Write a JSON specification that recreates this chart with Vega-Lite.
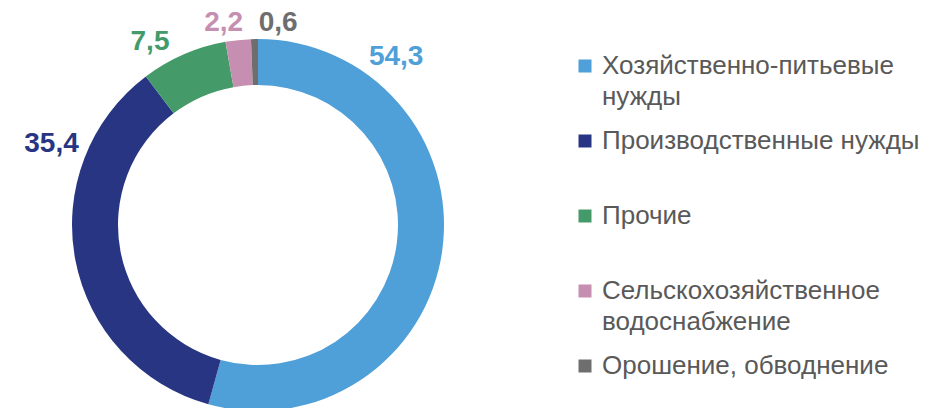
{
  "$schema": "https://vega.github.io/schema/vega-lite/v6.json",
  "width": 516,
  "height": 366,
  "autosize": {"type": "none"},
  "padding": {"left": 0, "top": 42, "right": 412, "bottom": 0},
  "background": "white",
  "config": {
    "view": {"stroke": null},
    "font": "Liberation Sans",
    "style": {"guide-label": {"lineHeight": 31}}
  },
  "data": {
    "values": [
      {"cat": "Хозяйственно-питьевые нужды", "value": 54.3, "label": "54,3", "order": 1},
      {"cat": "Производственные нужды", "value": 35.4, "label": "35,4", "order": 2},
      {"cat": "Прочие", "value": 7.5, "label": "7,5", "order": 3},
      {"cat": "Сельскохозяйственное водоснабжение", "value": 2.2, "label": "2,2", "order": 4},
      {"cat": "Орошение, обводнение", "value": 0.6, "label": "0,6", "order": 5}
    ]
  },
  "encoding": {
    "theta": {"field": "value", "type": "quantitative", "stack": true},
    "order": {"field": "order", "type": "quantitative"}
  },
  "layer": [
    {
      "mark": {"type": "arc", "outerRadius": 186, "innerRadius": 140},
      "encoding": {
        "color": {
          "field": "cat",
          "type": "nominal",
          "scale": {
            "domain": ["Хозяйственно-питьевые нужды", "Производственные нужды", "Прочие", "Сельскохозяйственное водоснабжение", "Орошение, обводнение"],
            "range": ["#4F9FD8", "#283583", "#449A69", "#C68FB1", "#6E6E6E"]
          },
          "legend": {
            "title": null,
            "orient": "right",
            "offset": 45,
            "padding": 11,
            "symbolType": "square",
            "symbolSize": 169,
            "symbolStrokeWidth": 0,
            "labelFont": "Liberation Sans",
            "labelFontSize": 26,
            "labelColor": "#595959",
            "labelLimit": 500,
            "labelOffset": 4,
            "rowPadding": 18,
            "labelExpr": "datum.label == 'Хозяйственно-питьевые нужды' ? ['Хозяйственно-питьевые', 'нужды'] : datum.label == 'Сельскохозяйственное водоснабжение' ? ['Сельскохозяйственное', 'водоснабжение'] : [datum.label, ' ']"
          }
        }
      }
    },
    {
      "mark": {"type": "text", "radius": 200, "fontSize": 28, "fontWeight": "bold", "font": "Liberation Sans", "fill": "#4F9FD8", "dx": -60, "dy": -195},
      "encoding": {"text": {"condition": {"test": "datum.order === 1", "field": "label", "type": "nominal"}, "value": ""}}
    },
    {
      "mark": {"type": "text", "radius": 200, "fontSize": 28, "fontWeight": "bold", "font": "Liberation Sans", "fill": "#283583", "dx": -10, "dy": -118},
      "encoding": {"text": {"condition": {"test": "datum.order === 2", "field": "label", "type": "nominal"}, "value": ""}}
    },
    {
      "mark": {"type": "text", "radius": 200, "fontSize": 28, "fontWeight": "bold", "font": "Liberation Sans", "fill": "#449A69", "dx": -28, "dy": 0},
      "encoding": {"text": {"condition": {"test": "datum.order === 3", "field": "label", "type": "nominal"}, "value": ""}}
    },
    {
      "mark": {"type": "text", "radius": 200, "fontSize": 28, "fontWeight": "bold", "font": "Liberation Sans", "fill": "#C68FB1", "dx": -13, "dy": -3},
      "encoding": {"text": {"condition": {"test": "datum.order === 4", "field": "label", "type": "nominal"}, "value": ""}}
    },
    {
      "mark": {"type": "text", "radius": 200, "fontSize": 28, "fontWeight": "bold", "font": "Liberation Sans", "fill": "#6E6E6E", "dx": 24, "dy": -2},
      "encoding": {"text": {"condition": {"test": "datum.order === 5", "field": "label", "type": "nominal"}, "value": ""}}
    }
  ]
}
